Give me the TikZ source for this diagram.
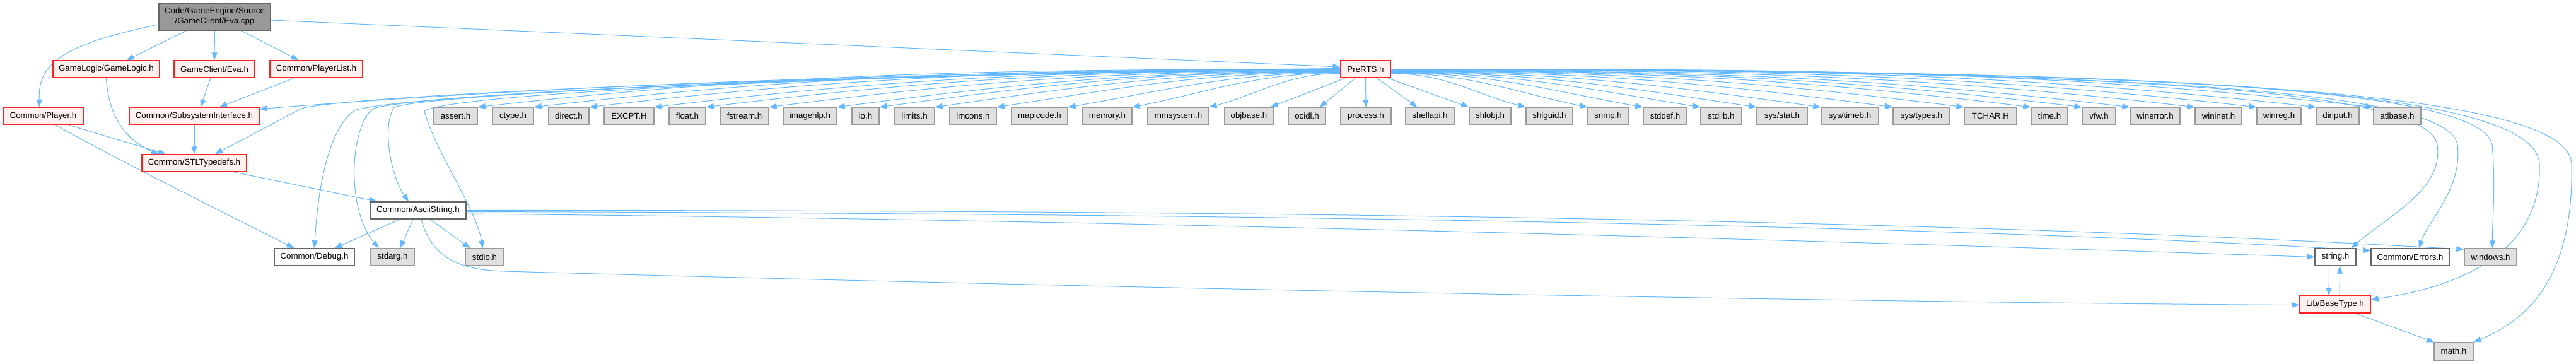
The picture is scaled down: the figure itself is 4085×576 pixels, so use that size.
\documentclass[tikz,border=0pt]{standalone}
\usepackage{fontspec}
\setmainfont{Liberation Sans}
\usetikzlibrary{arrows.meta}
\definecolor{edgec}{HTML}{63B8FF}
\definecolor{grayfill}{HTML}{E0E0E0}
\definecolor{grayline}{HTML}{999999}
\definecolor{redfill}{HTML}{FFF0F0}
\definecolor{redline}{HTML}{FF2020}
\definecolor{darkline}{HTML}{666666}
\definecolor{rootfill}{HTML}{999999}
\pgfdeclarelayer{background}
\pgfsetlayers{background,main}
\begin{document}
\begin{tikzpicture}[x=1pt,y=-1pt,
  base/.style={rectangle, inner sep=0pt, minimum height=27pt, line width=1.4pt, font=\fontsize{13.3}{16}\selectfont, text=black},
  sysbox/.style={base, draw=grayline, fill=grayfill},
  redbox/.style={base, draw=redline, fill=redfill},
  docbox/.style={base, draw=darkline, fill=white},
  rootbox/.style={base, draw=darkline, fill=rootfill, minimum height=43pt, align=center},
  edge/.style={draw=edgec, line width=1pt, -{Triangle[length=12pt,width=9pt]}},
]
\useasboundingbox (0,0) rectangle (4085,576);

% nodes
\node[rootbox, minimum width=177pt] (root) at (340.5,26.5) {Code/GameEngine/Source\\/GameClient/Eva.cpp};
\node[redbox, minimum width=169pt] (gamelogic) at (168.5,109.5) {GameLogic/GameLogic.h};
\node[redbox, minimum width=128pt] (evah) at (340,109.5) {GameClient/Eva.h};
\node[redbox, minimum width=147pt] (playerlist) at (501.5,109.5) {Common/PlayerList.h};
\node[redbox, minimum width=79pt] (prerts) at (2165.5,109.5) {PreRTS.h};

\node[redbox, minimum width=127pt] (player) at (68.5,184) {Common/Player.h};
\node[redbox, minimum width=206pt] (subsys) at (308,184) {Common/SubsystemInterface.h};
\foreach \n/\cx/\w/\lbl in {assert/722.5/69/assert.h, ctype/813.5/65/ctype.h, direct/902/64/direct.h,
  excpt/997.5/79/EXCPT.H, float/1090/58/float.h, fstream/1180.5/77/fstream.h, imagehlp/1284.5/85/imagehlp.h,
  io/1372.5/43/io.h, limits/1450/64/limits.h, lmcons/1543/74/lmcons.h, mapicode/1648.5/89/mapicode.h,
  memory/1756/78/memory.h, mmsystem/1868.5/97/mmsystem.h, objbase/1980.5/77/objbase.h, ocidl/2072.5/59/ocidl.h,
  process/2166/80/process.h, shellapi/2267.5/77/shellapi.h, shlobj/2363/66/shlobj.h, shlguid/2457/74/shlguid.h,
  snmp/2550/64/snmp.h, stddef/2640.5/69/stddef.h, stdlib/2729.5/65/stdlib.h,
  tchar/3156.5/83/TCHAR.H, time/3250/58/time.h, vfw/3328.5/53/vfw.h, winerror/3417.5/79/winerror.h,
  wininet/3518/74/wininet.h, winreg/3614/70/winreg.h, dinput/3707/68/dinput.h, atlbase/3801.5/75/atlbase.h}
  {\node[sysbox, minimum width=\w pt] (\n) at (\cx,184) {\lbl};}
\node[sysbox, minimum width=80pt] (sysstat) at (2826,184) {sys/stat.h};
\node[sysbox, minimum width=91pt] (systimeb) at (2933.5,184) {sys/timeb.h};
\node[sysbox, minimum width=90pt] (systypes) at (3047,184) {sys/types.h};

\node[redbox, minimum width=166pt] (stl) at (308,258.5) {Common/STLTypedefs.h};
\node[docbox, minimum width=152pt] (ascii) at (663,333.5) {Common/AsciiString.h};

\node[docbox, minimum width=127pt] (debug) at (498.5,407.5) {Common/Debug.h};
\node[sysbox, minimum width=69pt] (stdarg) at (622.5,407.5) {stdarg.h};
\node[sysbox, minimum width=61pt] (stdio) at (768.5,407.5) {stdio.h};
\node[docbox, minimum width=65pt] (string) at (3703.5,407.5) {string.h};
\node[docbox, minimum width=124pt] (errors) at (3822,407.5) {Common/Errors.h};
\node[sysbox, minimum width=83pt] (windows) at (3949.5,407.5) {windows.h};
\node[redbox, minimum width=112pt] (basetype) at (3703,482.5) {Lib/BaseType.h};
\node[sysbox, minimum width=62pt, minimum height=28pt] (math) at (3891,557) {math.h};

\begin{pgfonlayer}{background}
\fill[white] (0,0) rectangle (4085,576);
% root edges
\draw[edge] ([yshift=-12.5pt]root.west) .. controls (100,70) and (60,100) .. ([xshift=-6pt]player.north);
\draw[edge] ([xshift=-45pt]root.south) -- ([xshift=32pt]gamelogic.north);
\draw[edge] (root.south) -- (evah.north);
\draw[edge] ([xshift=42pt]root.south) -- ([xshift=-28pt]playerlist.north);
\draw[edge] ([yshift=-5.5pt]root.east) -- ([yshift=3.5pt]prerts.west);

% left cluster
\draw[edge] (gamelogic.south) .. controls (172,190) and (205,225) .. ([xshift=-56pt]stl.north);
\draw[edge] ([xshift=-6pt]evah.south) -- ([xshift=10pt]subsys.north);
\draw[edge] ([xshift=-35pt]playerlist.south) -- ([xshift=40pt]subsys.north);
\draw[edge] ([xshift=41pt]player.south) -- ([xshift=-45pt]stl.north);
\draw[edge] ([xshift=20pt]player.south) .. controls (170,245) and (390,355) .. ([xshift=-32pt]debug.north);
\draw[edge] (subsys.south) -- (stl.north);
\draw[edge] ([xshift=62pt]stl.south) -- ([xshift=-65pt]ascii.north);

% PreRTS long edges to the left
\draw[edge] ([yshift=1pt]prerts.west) .. controls (1300,116) and (800,142) .. ([yshift=-3pt]subsys.north east);
\draw[edge] (prerts.west) .. controls (1300,118) and (560,150) .. (478,172) -- ([xshift=33pt]stl.north);
\draw[edge] (prerts.west) .. controls (1300,118) and (640,150) .. (562,175) .. controls (515,210) and (503,320) .. (debug.north);
\draw[edge] (prerts.west) .. controls (1300,118) and (660,150) .. (592,172) .. controls (555,200) and (548,330) .. ([xshift=-22pt]stdarg.north);
\draw[edge] (prerts.west) .. controls (1300,118) and (680,150) .. (625,170) .. controls (605,200) and (620,280) .. ([xshift=-15pt]ascii.north);
\draw[edge] (prerts.west) .. controls (1300,118) and (710,150) .. (673,176) .. controls (690,240) and (755,330) .. ([xshift=-3pt]stdio.north);

% PreRTS fan to the left
\foreach \n/\tx in {assert/757,ctype/846,direct/934,excpt/1037,float/1119,fstream/1219,imagehlp/1327,io/1394,limits/1482,lmcons/1580,mapicode/1693,memory/1795,mmsystem/1917}{
  \pgfmathsetmacro\myDx{2126-\tx}
  \pgfmathsetmacro\myA{0.4*\myDx}
  \pgfmathsetmacro\myB{0.35*\myDx}
  \pgfmathsetmacro\myC{\myB*tan(5+2000/\myDx)}
  \pgfmathsetmacro\myY{-8+8*\myDx/1400}
  \draw[edge] ([yshift=\myY pt]prerts.west) .. controls +(-\myA,0) and +(\myB,-\myC) .. (\n.north east);
}
% near ones
\draw[edge] ([xshift=-32pt]prerts.south) -- ([xshift=-5pt]objbase.north east);
\draw[edge] ([xshift=-16pt]prerts.south) -- ([xshift=-10pt]ocidl.north east);
\draw[edge] (prerts.south) -- (process.north);
\draw[edge] ([xshift=18pt]prerts.south) -- ([xshift=19pt]shellapi.north west);
\draw[edge] ([xshift=35pt]prerts.south) -- (shlobj.north west);
% PreRTS fan to the right
\foreach \n/\tx in {shlguid/2420,snmp/2518,stddef/2606,stdlib/2697,sysstat/2786,systimeb/2888,systypes/3002,tchar/3115,time/3221,vfw/3302,winerror/3378,wininet/3481,winreg/3579,dinput/3673,atlbase/3764}{
  \pgfmathsetmacro\myDx{\tx-2205}
  \pgfmathsetmacro\myA{0.4*\myDx}
  \pgfmathsetmacro\myB{0.35*\myDx}
  \pgfmathsetmacro\myC{\myB*tan(5+2000/\myDx)}
  \pgfmathsetmacro\myY{-8+8*\myDx/1560}
  \draw[edge] ([yshift=\myY pt]prerts.east) .. controls +(\myA,0) and +(-\myB,-\myC) .. (\n.north west);
}
% PreRTS long edges to the right
\draw[edge] (prerts.east) .. controls (3300,112) and (3850,135) .. (3865,230) .. controls (3875,300) and (3790,340) .. ([xshift=25pt]string.north);
\draw[edge] (prerts.east) .. controls (3300,112) and (3885,135) .. (3897,230) .. controls (3905,300) and (3850,350) .. ([xshift=14pt]errors.north);
\draw[edge] (prerts.east) .. controls (3300,112) and (3935,130) .. (3952,230) .. controls (3958,300) and (3952,350) .. ([xshift=3pt]windows.north);
\draw[edge] (prerts.east) .. controls (3300,112) and (4020,125) .. (4027,260) .. controls (4032,400) and (3900,455) .. ([yshift=7.5pt]basetype.east);
\draw[edge] (prerts.east) .. controls (3300,112) and (4075,130) .. (4078,260) .. controls (4082,450) and (4000,510) .. (math.north east);

% AsciiString edges
\draw[edge] ([xshift=-29pt]ascii.south) -- ([xshift=32pt]debug.north);
\draw[edge] ([xshift=-8pt]ascii.south) -- ([xshift=12pt]stdarg.north);
\draw[edge] ([xshift=19pt]ascii.south) -- ([xshift=-23pt]stdio.north);
\draw[edge] ([xshift=5pt]ascii.south) .. controls (685,410) and (730,428) .. (800,430) .. controls (1800,458) and (3000,480) .. ([yshift=-1pt]basetype.west);
\draw[edge] ([yshift=-5.5pt]ascii.east) .. controls (1800,348) and (3000,385) .. (string.west);
\draw[edge] ([yshift=-2pt]ascii.east) .. controls (1800,338) and (3000,352) .. ([yshift=-4pt]errors.north west);
\draw[edge] (ascii.east) .. controls (1800,333) and (3000,343) .. ([yshift=-2pt]windows.north west);

% string / BaseType / math
\draw[edge] ([xshift=-10pt]string.south) -- ([xshift=-10pt]basetype.north);
\draw[edge] ([xshift=7pt]basetype.north) -- ([xshift=7pt]string.south);
\draw[edge] ([xshift=32pt]basetype.south) -- ([xshift=-31pt]math.north);
\end{pgfonlayer}
\end{tikzpicture}
\end{document}
